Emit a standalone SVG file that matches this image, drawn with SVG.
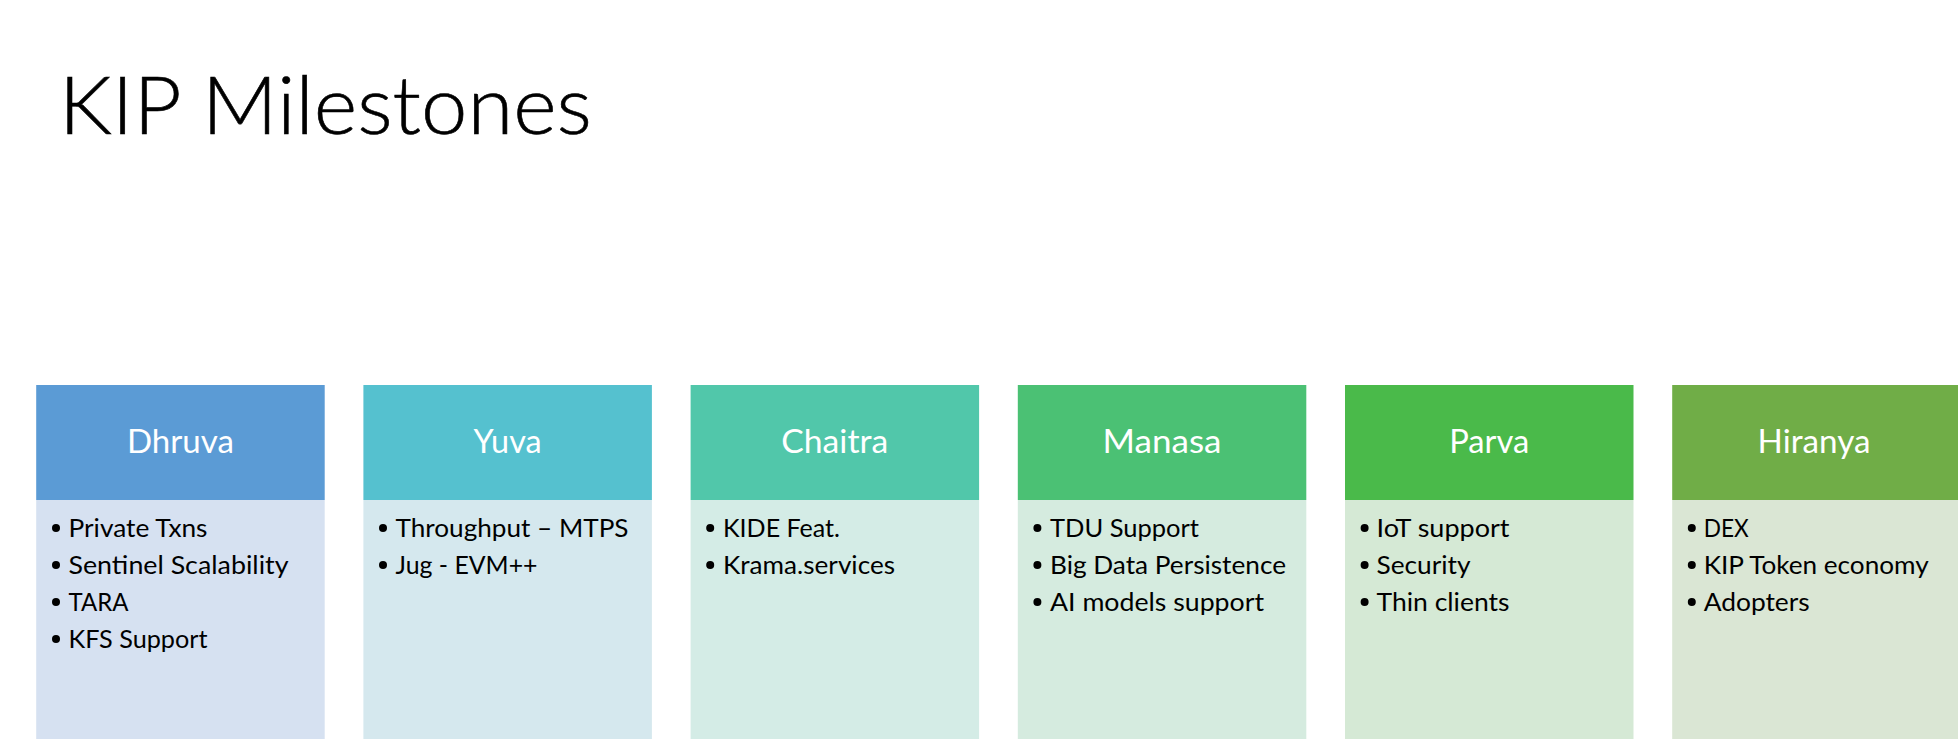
<svg xmlns="http://www.w3.org/2000/svg" width="1958" height="741" viewBox="0 0 1958 741">
<style>
.title{font-family:Lato,"Open Sans","Liberation Sans",sans-serif;font-weight:300;font-size:81px;fill:#000}
.hd{font-family:Lato,"Open Sans","Liberation Sans",sans-serif;font-size:32px;fill:#fff;text-anchor:middle}
.it{font-family:Lato,"Open Sans","Liberation Sans",sans-serif;font-size:25.5px;fill:#000}
.dot{fill:#000}
</style>
<rect width="1958" height="741" fill="#fff"/>
<text class="title" x="59" y="134" textLength="533" lengthAdjust="spacingAndGlyphs" stroke="#000" stroke-width="0.6">KIP Milestones</text>

<g id="dhruva">
<rect x="36.2" y="500" width="288.5" height="239" fill="#D6E1F1"/>
<rect x="36.2" y="385" width="288.5" height="115" fill="#5B9BD5"/>
<text class="hd" x="180.5" y="453" textLength="107" lengthAdjust="spacingAndGlyphs">Dhruva</text>
<circle class="dot" cx="56" cy="528" r="4"/><text class="it" x="68.5" y="537" textLength="139" lengthAdjust="spacingAndGlyphs">Private Txns</text>
<circle class="dot" cx="56" cy="565" r="4"/><text class="it" x="68.5" y="574" textLength="220" lengthAdjust="spacingAndGlyphs">Sentinel Scalability</text>
<circle class="dot" cx="56" cy="602" r="4"/><text class="it" x="68.5" y="611" textLength="60" lengthAdjust="spacingAndGlyphs">TARA</text>
<circle class="dot" cx="56" cy="639" r="4"/><text class="it" x="68.5" y="648" textLength="139" lengthAdjust="spacingAndGlyphs">KFS Support</text>
</g>

<g id="yuva">
<rect x="363.4" y="500" width="288.5" height="239" fill="#D5E8EE"/>
<rect x="363.4" y="385" width="288.5" height="115" fill="#55C1CF"/>
<text class="hd" x="507.6" y="453" textLength="68" lengthAdjust="spacingAndGlyphs">Yuva</text>
<circle class="dot" cx="383" cy="528" r="4"/><text class="it" x="395.5" y="537" textLength="233" lengthAdjust="spacingAndGlyphs">Throughput – MTPS</text>
<circle class="dot" cx="383" cy="565" r="4"/><text class="it" x="395.5" y="574" textLength="142" lengthAdjust="spacingAndGlyphs">Jug - EVM++</text>
</g>

<g id="chaitra">
<rect x="690.6" y="500" width="288.5" height="239" fill="#D4ECE6"/>
<rect x="690.6" y="385" width="288.5" height="115" fill="#51C7AA"/>
<text class="hd" x="834.8" y="453" textLength="107" lengthAdjust="spacingAndGlyphs">Chaitra</text>
<circle class="dot" cx="710.2" cy="528" r="4"/><text class="it" x="723" y="537" textLength="117" lengthAdjust="spacingAndGlyphs">KIDE Feat.</text>
<circle class="dot" cx="710.2" cy="565" r="4"/><text class="it" x="723" y="574" textLength="172" lengthAdjust="spacingAndGlyphs">Krama.services</text>
</g>

<g id="manasa">
<rect x="1017.8" y="500" width="288.5" height="239" fill="#D5EBDF"/>
<rect x="1017.8" y="385" width="288.5" height="115" fill="#4BC174"/>
<text class="hd" x="1162" y="453" textLength="119" lengthAdjust="spacingAndGlyphs">Manasa</text>
<circle class="dot" cx="1037.4" cy="528" r="4"/><text class="it" x="1050" y="537" textLength="149" lengthAdjust="spacingAndGlyphs">TDU Support</text>
<circle class="dot" cx="1037.4" cy="565" r="4"/><text class="it" x="1050" y="574" textLength="236" lengthAdjust="spacingAndGlyphs">Big Data Persistence</text>
<circle class="dot" cx="1037.4" cy="602" r="4"/><text class="it" x="1050" y="611" textLength="214" lengthAdjust="spacingAndGlyphs">AI models support</text>
</g>

<g id="parva">
<rect x="1345" y="500" width="288.5" height="239" fill="#D5E9D5"/>
<rect x="1345" y="385" width="288.5" height="115" fill="#4ABA4A"/>
<text class="hd" x="1489.2" y="453" textLength="80" lengthAdjust="spacingAndGlyphs">Parva</text>
<circle class="dot" cx="1364.6" cy="528" r="4"/><text class="it" x="1376.5" y="537" textLength="133" lengthAdjust="spacingAndGlyphs">IoT support</text>
<circle class="dot" cx="1364.6" cy="565" r="4"/><text class="it" x="1376.5" y="574" textLength="94" lengthAdjust="spacingAndGlyphs">Security</text>
<circle class="dot" cx="1364.6" cy="602" r="4"/><text class="it" x="1376.5" y="611" textLength="133" lengthAdjust="spacingAndGlyphs">Thin clients</text>
</g>

<g id="hiranya">
<rect x="1672.2" y="500" width="288.5" height="239" fill="#DAE6D4"/>
<rect x="1672.2" y="385" width="288.5" height="115" fill="#70AD47"/>
<text class="hd" x="1814" y="453" textLength="113" lengthAdjust="spacingAndGlyphs">Hiranya</text>
<circle class="dot" cx="1691.8" cy="528" r="4"/><text class="it" x="1703.7" y="537" textLength="45" lengthAdjust="spacingAndGlyphs">DEX</text>
<circle class="dot" cx="1691.8" cy="565" r="4"/><text class="it" x="1703.7" y="574" textLength="225" lengthAdjust="spacingAndGlyphs">KIP Token economy</text>
<circle class="dot" cx="1691.8" cy="602" r="4"/><text class="it" x="1703.7" y="611" textLength="106" lengthAdjust="spacingAndGlyphs">Adopters</text>
</g>

<g id="connectors"></g>
</svg>
